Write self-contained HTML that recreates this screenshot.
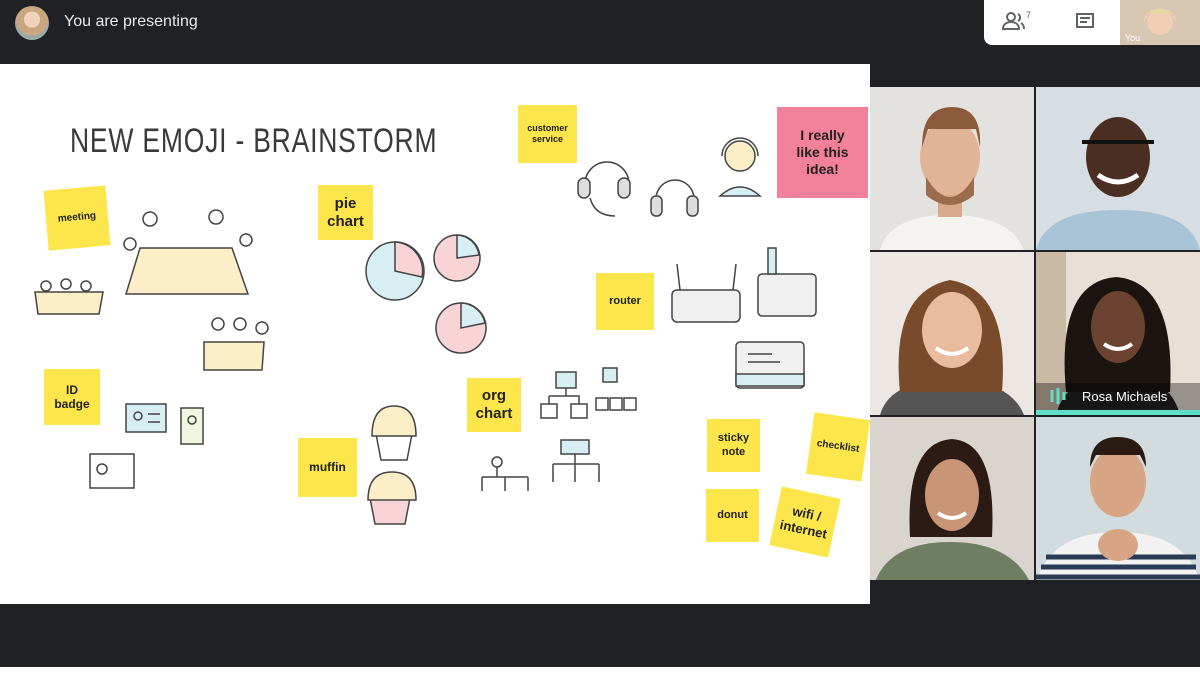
<!DOCTYPE html>
<html><head><meta charset="utf-8"><style>
*{margin:0;padding:0;box-sizing:border-box}
body{width:1200px;height:675px;background:#202124;position:relative;overflow:hidden;font-family:"Liberation Sans",sans-serif}
.top{position:absolute;left:0;top:0;width:1200px;height:64px;background:#202124}
.av{position:absolute;left:15px;top:6px;width:34px;height:34px;border-radius:50%;background:radial-gradient(circle at 50% 40%,#f1d2bd 0 30%,#c9a67f 31% 60%,#9aa 61%)}
.pres{position:absolute;left:64px;top:13px;color:#e8eaed;font-size:16px}
.panel{position:absolute;left:984px;top:0;width:216px;height:45px;background:#fff;border-radius:0 0 0 8px}
.wb{position:absolute;left:0;top:64px;width:870px;height:540px;background:#fff}
.n{position:absolute;background:#fde64b;display:flex;align-items:center;justify-content:center;text-align:center;font-weight:bold;color:#222;line-height:1.2}
.tile{position:absolute;width:164px;height:163px;overflow:hidden}
.bottom{position:absolute;left:0;top:667px;width:1200px;height:8px;background:#fff}
</style></head><body>
<div class="top"></div>
<div class="av"></div>
<div class="pres">You are presenting</div>
<div class="panel">
<svg width="216" height="45" style="position:absolute;left:0;top:0">
<g fill="none" stroke="#5f6368" stroke-width="2"><circle cx="27" cy="17" r="4"/><path d="M19 29c0-5 4-7 8-7s8 2 8 7z"/><path d="M34 14a4 4 0 0 1 0 7M37 23c2 1 3 3 3 6"/>
<rect x="93" y="14" width="16" height="13"/><path d="M96 18h10M96 22h7"/></g>
<text x="42" y="18" font-size="9" fill="#5f6368">7</text>
<rect x="136" y="0" width="80" height="45" fill="#d7c6b2"/><circle cx="176" cy="22" r="13" fill="#f0cdb5"/><path d="M160 22c0-18 32-18 32 0l-4-8h-24z" fill="#e8d7a6"/>
<text x="141" y="41" font-size="9" fill="#fff">You</text></svg></div>
<div class="wb">
<div style="position:absolute;left:70px;top:58px;font-size:34px;color:#3a3a3a;letter-spacing:1px;transform:scaleX(.78);transform-origin:left;white-space:nowrap">NEW EMOJI - BRAINSTORM</div>
<svg width="870" height="540" style="position:absolute;left:0;top:0" fill="none" stroke="#444" stroke-width="1.5">
<path d="M140 184l-14 46h122l-16-46z" fill="#fcefc8"/>
<circle cx="150" cy="155" r="7"/><circle cx="216" cy="153" r="7"/><circle cx="130" cy="180" r="6"/><circle cx="246" cy="176" r="6"/>
<path d="M35 228h68l-4 22H38z" fill="#fcefc8"/><circle cx="46" cy="222" r="5"/><circle cx="66" cy="220" r="5"/><circle cx="86" cy="222" r="5"/>
<path d="M204 278h60l-2 28h-58z" fill="#fcefc8"/><circle cx="218" cy="260" r="6"/><circle cx="240" cy="260" r="6"/><circle cx="262" cy="264" r="6"/>
<circle cx="395" cy="207" r="29" fill="#d7eef3"/><path d="M395 207V178a29 29 0 0 1 27 35z" fill="#f8d4d7"/>
<circle cx="457" cy="194" r="23" fill="#f8d4d7"/><path d="M457 194V171a23 23 0 0 1 22 20z" fill="#d7eef3"/>
<circle cx="461" cy="264" r="25" fill="#f8d4d7"/><path d="M461 264V239a25 25 0 0 1 24 20z" fill="#d7eef3"/>
<path d="M585 120a22 22 0 0 1 44 0"/><rect x="578" y="114" width="12" height="20" rx="6" fill="#ddd"/><rect x="618" y="114" width="12" height="20" rx="6" fill="#ddd"/><path d="M590 134q5 18 25 18"/>
<path d="M656 135a19 19 0 0 1 38 0"/><rect x="651" y="132" width="11" height="20" rx="5" fill="#ddd"/><rect x="687" y="132" width="11" height="20" rx="5" fill="#ddd"/>
<circle cx="740" cy="92" r="15" fill="#fcefc8"/><path d="M720 132q20-18 40 0z" fill="#d7eef3"/><path d="M722 92a18 18 0 0 1 36 0"/>
<rect x="672" y="226" width="68" height="32" rx="5" fill="#f0f0f0"/><path d="M680 226l-3-26M733 226l3-26"/>
<rect x="758" y="210" width="58" height="42" rx="4" fill="#f0f0f0"/><rect x="768" y="184" width="8" height="26" fill="#d7eef3"/>
<rect x="736" y="278" width="68" height="46" rx="4" fill="#f0f0f0"/><path d="M748 290h24M748 298h32"/><rect x="736" y="310" width="68" height="12" fill="#d7eef3"/>
<rect x="126" y="340" width="40" height="28" fill="#d7eef3"/><circle cx="138" cy="352" r="4"/><path d="M148 350h12M148 358h12"/>
<rect x="181" y="344" width="22" height="36" fill="#eef7e0"/><circle cx="192" cy="356" r="4"/>
<rect x="90" y="390" width="44" height="34" fill="#fff"/><circle cx="102" cy="405" r="5"/>
<path d="M376 370h36l-5 26h-26z" fill="#fff"/><path d="M372 372q0-30 22-30q22 0 22 30z" fill="#fcefc8"/>
<path d="M370 434h40l-5 26h-30z" fill="#f8d4d7"/><path d="M368 436q0-28 24-28q24 0 24 28z" fill="#fcefc8"/>
<rect x="556" y="308" width="20" height="16" fill="#d7eef3"/><rect x="541" y="340" width="16" height="14" fill="#fff"/><rect x="571" y="340" width="16" height="14" fill="#fff"/><path d="M566 324v8M549 332h30v8M549 332v8"/>
<rect x="603" y="304" width="14" height="14" fill="#d7eef3"/><rect x="596" y="334" width="12" height="12"/><rect x="610" y="334" width="12" height="12"/><rect x="624" y="334" width="12" height="12"/>
<rect x="561" y="376" width="28" height="14" fill="#d7eef3"/><path d="M575 390v10M553 400h46M553 400v18M575 400v18M599 400v18"/>
<circle cx="497" cy="398" r="5"/><path d="M497 403v10M482 413h46M482 413v14M505 413v14M528 413v14"/>
</svg>
<div class="n" style="left:46px;top:124px;width:62px;height:60px;font-size:10px;transform:rotate(-5deg)">meeting</div>
<div class="n" style="left:318px;top:121px;width:55px;height:55px;font-size:15px">pie<br>chart</div>
<div class="n" style="left:518px;top:41px;width:59px;height:58px;font-size:9px">customer<br>service</div>
<div class="n" style="left:777px;top:43px;width:91px;height:91px;font-size:14px;background:#f4819b">I really<br>like this<br>idea!</div>
<div class="n" style="left:596px;top:209px;width:58px;height:57px;font-size:11px">router</div>
<div class="n" style="left:44px;top:305px;width:56px;height:56px;font-size:12px">ID<br>badge</div>
<div class="n" style="left:467px;top:314px;width:54px;height:54px;font-size:15px">org<br>chart</div>
<div class="n" style="left:298px;top:374px;width:59px;height:59px;font-size:12px">muffin</div>
<div class="n" style="left:707px;top:355px;width:53px;height:53px;font-size:11px">sticky<br>note</div>
<div class="n" style="left:810px;top:352px;width:56px;height:62px;font-size:10px;transform:rotate(8deg)">checklist</div>
<div class="n" style="left:706px;top:425px;width:53px;height:53px;font-size:11px">donut</div>
<div class="n" style="left:775px;top:428px;width:60px;height:60px;font-size:13px;transform:rotate(12deg)">wifi /<br>internet</div>
</div>
<div class="tile" style="left:870px;top:87px;background:#e3e2df"><svg width="164" height="163"><path d="M10 163q10-35 70-35t74 35z" fill="#f4f3f0"/><rect x="68" y="100" width="24" height="30" fill="#d9a98b"/><ellipse cx="80" cy="70" rx="30" ry="38" fill="#e2b497"/><path d="M52 60q0-40 30-40t28 40l-4-18h-48z" fill="#8a5a3a"/><path d="M56 90q24 40 48 0v18q-24 20-48 0z" fill="#9b6b4a"/></svg></div>
<div class="tile" style="left:1036px;top:87px;background:#d6dde3"><svg width="164" height="163"><path d="M0 163q10-40 82-40t82 40z" fill="#a8c2d6"/><ellipse cx="82" cy="70" rx="32" ry="40" fill="#4a2e22"/><path d="M46 55h72" stroke="#111" stroke-width="4"/><path d="M62 88q20 14 40 0" stroke="#fff" stroke-width="5" fill="none"/></svg></div>
<div class="tile" style="left:870px;top:252px;background:#ece7e2"><svg width="164" height="163"><path d="M10 163q10-35 70-35t74 35z" fill="#555"/><path d="M30 140q-10-100 50-112q60 10 52 112z" fill="#7a4b2a"/><ellipse cx="82" cy="78" rx="30" ry="38" fill="#e9bca0"/><path d="M66 96q16 12 32 0" stroke="#fff" stroke-width="4" fill="none"/></svg></div>
<div class="tile" style="left:1036px;top:252px;background:#e8e0d6"><svg width="164" height="163"><rect x="0" y="0" width="30" height="163" fill="#c9b9a5"/><path d="M20 163q10-40 62-40t62 40z" fill="#222"/><path d="M30 140q-10-110 50-115q60 5 54 115z" fill="#1b1410"/><ellipse cx="82" cy="75" rx="27" ry="36" fill="#6b4330"/><path d="M68 92q14 10 28 0" stroke="#fff" stroke-width="4" fill="none"/><rect x="0" y="131" width="164" height="32" fill="rgba(0,0,0,.35)"/><text x="46" y="149" font-size="13" fill="#fff" font-family="Liberation Sans">Rosa Michaels</text><path d="M16 138v12M22 136v16M28 140v8" stroke="#5ce1c6" stroke-width="3"/><rect x="0" y="158" width="164" height="5" fill="#5ce1c6"/></svg></div>
<div class="tile" style="left:870px;top:417px;background:#d9d4ce"><svg width="164" height="163"><path d="M5 165q15-40 75-40t80 40z" fill="#6f7d63"/><path d="M40 120q-5-95 42-98q45 3 40 98z" fill="#2b1b14"/><ellipse cx="82" cy="78" rx="27" ry="36" fill="#c99577"/><path d="M68 96q14 10 28 0" stroke="#fff" stroke-width="4" fill="none"/></svg></div>
<div class="tile" style="left:1036px;top:417px;background:#d2dcde"><svg width="164" height="163"><path d="M0 165q15-50 82-50t82 50z" fill="#f2f2f2"/><path d="M10 140h150M5 150h155M0 160h164" stroke="#2a3b55" stroke-width="5"/><ellipse cx="82" cy="65" rx="28" ry="35" fill="#d7a584"/><path d="M54 50q0-30 28-30t28 30l-6-12h-44z" fill="#2a1b12"/><ellipse cx="82" cy="128" rx="20" ry="16" fill="#d7a584"/></svg></div>
<div class="bottom"></div>
</body></html>
